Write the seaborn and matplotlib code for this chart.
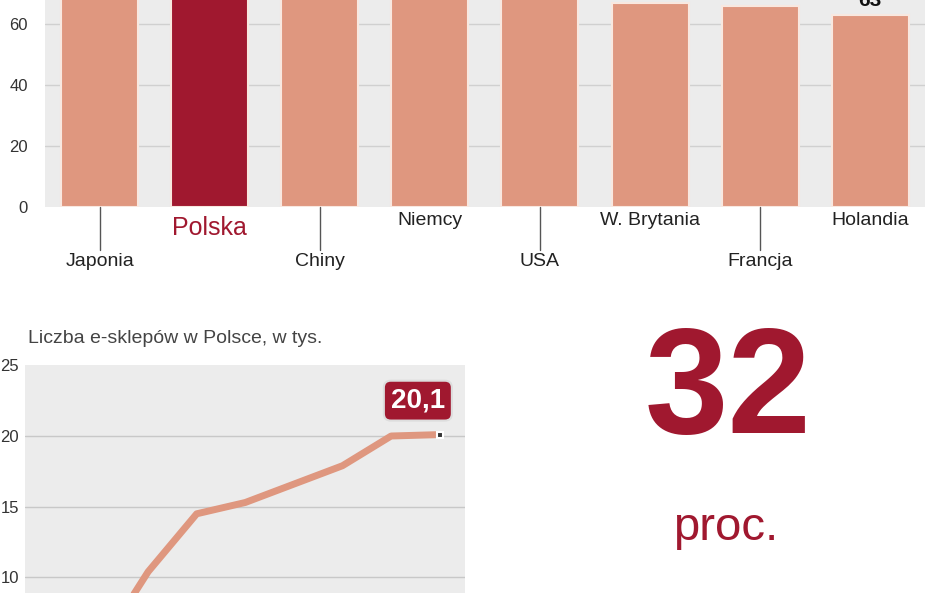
import matplotlib
matplotlib.use("Agg")
import matplotlib.pyplot as plt
import seaborn as sns
import pandas as pd

# data
countries = ["Japonia", "Polska", "Chiny", "Niemcy", "USA", "W. Brytania", "Francja", "Holandia"]
shares = [80, 79, 76, 74, 72, 67, 66, 63]
shop_idx = [0, 1, 2, 3, 4, 5, 6, 7]
shops = [5.0, 10.4, 14.5, 15.3, 16.6, 17.9, 20.0, 20.1]
bar_ticks = [0, 20, 40, 60]
line_ticks = [10, 15, 20, 25]

SALMON = "#df977f"
RED = "#a0182f"
PANEL = "#ececec"

sns.set_theme(style="white")
plt.rcParams["font.family"] = ["Liberation Sans", "DejaVu Sans"]

fig = plt.figure(figsize=(9.48, 5.93), dpi=100)

# top bar chart
ax = fig.add_axes([0.047, 0.651, 0.929, 0.349])
df = pd.DataFrame({"kraj": countries, "udzial": shares})
colors = [RED if c == "Polska" else SALMON for c in countries]
sns.barplot(data=df, x="kraj", y="udzial", hue="kraj", palette=colors,
            legend=False, width=0.7, saturation=1, edgecolor="#f8e8e0",
            linewidth=1.5, ax=ax)
ax.set_facecolor(PANEL)
ax.set_ylim(0, 67.9)
ax.set_xlim(-0.5, 7.5)
ax.set_yticks(bar_ticks)
ax.set_yticklabels([str(t) for t in bar_ticks], fontsize=12, color="#333333")
ax.tick_params(axis="y", length=0, pad=12)
for t in bar_ticks[1:]:
    ax.axhline(t, color="#d0d0d0", lw=1, zorder=0)
ax.set_xticks([])
ax.set_xlabel("")
ax.set_ylabel("")
for s in ax.spines.values():
    s.set_visible(False)
for i, c in enumerate(countries):
    low = i % 2 == 0
    if c == "Polska":
        ax.text(i, -3, c, ha="center", va="top", fontsize=18, color=RED, clip_on=False)
        continue
    if low:
        ax.plot([i, i], [0, -14], color="#555555", lw=1, clip_on=False)
        ax.text(i, -15, c, ha="center", va="top", fontsize=14, color="#222222", clip_on=False)
    else:
        ax.text(i, -1.5, c, ha="center", va="top", fontsize=14, color="#222222", clip_on=False)
ax.text(7, shares[-1] + 1.5, str(shares[-1]), ha="center", va="bottom",
        fontsize=15, fontweight="bold", color="#111111")

# bottom line chart
ax2 = fig.add_axes([0.026, 0.0, 0.464, 0.384])
ax2.set_facecolor(PANEL)
sns.lineplot(x=shop_idx, y=shops, color=SALMON, lw=5, ax=ax2)
ax2.plot(shop_idx[-1], shops[-1], marker="s", ms=5, color="#333333",
         mec="white", mew=1.5)
ax2.set_ylim(8.9, 25)
ax2.set_xlim(-1.54, 7.51)
ax2.set_yticks(line_ticks)
ax2.set_yticklabels([str(t) for t in line_ticks], fontsize=12, color="#333333")
ax2.tick_params(axis="y", length=0, pad=4)
ax2.set_xticks([])
for t in line_ticks[:-1]:
    ax2.axhline(t, color="#c8c8c8", lw=1, zorder=0)
for s in ax2.spines.values():
    s.set_visible(False)
ax2.text(6.55, 22.5, "20,1", ha="center", va="center",
         fontsize=20, fontweight="bold", color="white",
         bbox=dict(boxstyle="round,pad=0.25", fc=RED, ec="#dddddd", lw=1.5))
fig.text(0.03, 0.43, "Liczba e-sklepów w Polsce, w tys.", fontsize=14,
         color="#444444", va="center")

# right side
fig.text(0.768, 0.27, "32", fontsize=108, fontweight="bold", color=RED,
         ha="center", va="baseline")
fig.text(0.765, 0.09, "proc.", fontsize=34, color=RED, ha="center", va="baseline")

fig.savefig("out.png", dpi=100)
